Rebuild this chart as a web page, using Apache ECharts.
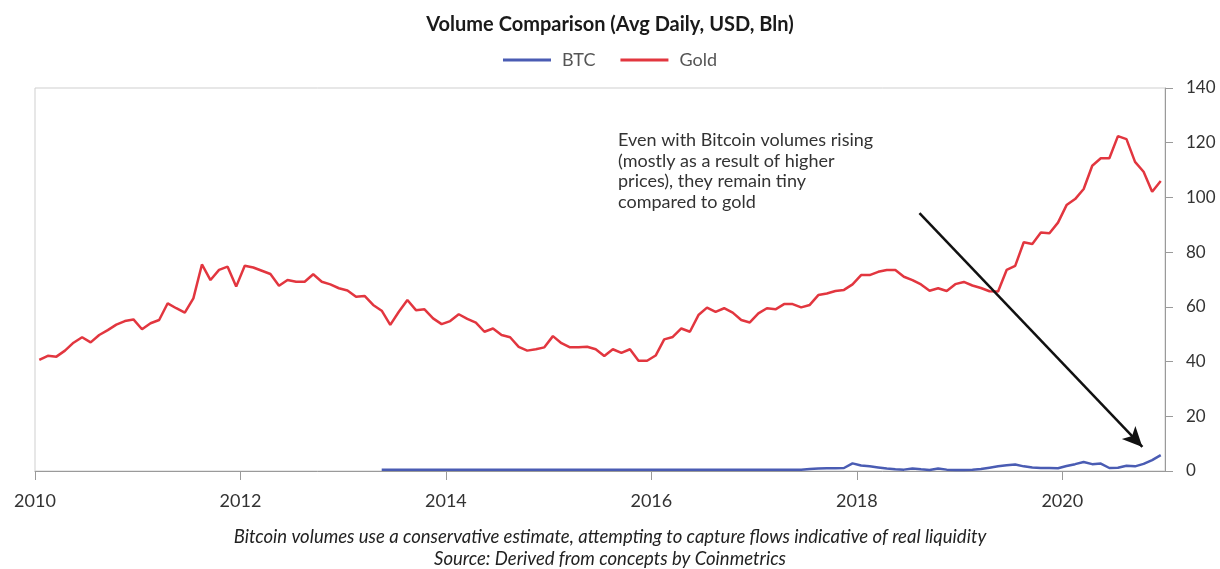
<!DOCTYPE html>
<html>
<head>
<meta charset="utf-8">
<script src="https://cdn.jsdelivr.net/npm/echarts@6/dist/echarts.min.js"></script>
<style>
html,body{margin:0;padding:0;background:#fff;}
#chart{width:1220px;height:569px;}
</style>
</head>
<body>
<div id="chart"></div>
<script>
// Monthly averages, Jan 2010 .. Dec 2020 (plotted mid-month)
const startYear = 2010;
const goldValues = [
  40.6, 42.1, 41.8, 44.0, 46.9, 48.9, 47.0, 49.7, 51.5, 53.5, 54.8, 55.4,
  51.8, 54.0, 55.2, 61.3, 59.5, 57.9, 63.1, 75.5, 69.8, 73.5, 74.7, 67.4,
  75.0, 74.4, 73.2, 72.0, 67.7, 69.8, 69.2, 69.2, 71.9, 69.2, 68.2, 66.8,
  66.0, 63.7, 64.0, 60.7, 58.6, 53.4, 58.2, 62.5, 58.8, 59.1, 55.8, 53.7,
  54.8, 57.3, 55.6, 54.2, 50.9, 52.1, 49.7, 48.9, 45.4, 44.0, 44.5, 45.2,
  49.3, 46.7, 45.2, 45.2, 45.4, 44.5, 42.0, 44.5, 43.2, 44.5, 40.3, 40.3,
  42.2, 48.1, 49.0, 52.1, 50.9, 57.0, 59.7, 58.2, 59.5, 57.9, 55.2, 54.3,
  57.6, 59.5, 59.1, 61.0, 61.0, 59.8, 60.7, 64.3, 64.9, 65.8, 66.2, 68.2,
  71.6, 71.6, 72.8, 73.5, 73.5, 71.0, 69.8, 68.2, 65.9, 66.8, 65.8, 68.3,
  69.1, 67.8, 66.9, 65.7, 65.6, 73.5, 75.0, 83.6, 83.0, 87.2, 86.9, 90.8,
  97.2, 99.4, 103.1, 111.6, 114.3, 114.3, 122.4, 121.3, 113.0, 109.4, 102.1, 106.0
];
// BTC starts May 2013 (month index 40)
const btcStartIndex = 40;
const btcValues = [
  0.5, 0.5, 0.5, 0.5, 0.5, 0.5, 0.5, 0.5, 0.5, 0.5,
  0.5, 0.5, 0.5, 0.5, 0.5, 0.5, 0.5, 0.5, 0.5, 0.5,
  0.5, 0.5, 0.5, 0.5, 0.5, 0.5, 0.5, 0.5, 0.5, 0.5,
  0.5, 0.5, 0.5, 0.5, 0.5, 0.5, 0.5, 0.5, 0.5, 0.5,
  0.5, 0.5, 0.5, 0.5, 0.5, 0.5, 0.5, 0.5, 0.5, 0.5,
  0.7, 0.9, 1.0, 1.0, 1.1, 2.8, 2.0, 1.7, 1.3, 0.9,
  0.6, 0.5, 0.9, 0.6, 0.4, 0.9, 0.5, 0.4, 0.4, 0.5,
  0.7, 1.2, 1.7, 2.1, 2.4, 1.7, 1.3, 1.1, 1.1, 1.0,
  1.8, 2.5, 3.3, 2.5, 2.7, 1.1, 1.2, 1.9, 1.7, 2.6,
  4.0, 5.8
];
const yTicks = [0, 20, 40, 60, 80, 100, 120, 140];
const xTickYears = [2010, 2012, 2014, 2016, 2018, 2020];
const annotationLines = [
  'Even with Bitcoin volumes rising',
  '(mostly as a result of higher',
  'prices), they remain tiny',
  'compared to gold'
];
const arrowFrom = [2018.61, 94.3];
const arrowTo = [2020.78, 8.8];
const footnote = 'Bitcoin volumes use a conservative estimate, attempting to capture flows indicative of real liquidity';
const source = 'Source: Derived from concepts by Coinmetrics';

function monthX(i) { return startYear + (i + 0.5) / 12; }
const goldData = goldValues.map((v, i) => [monthX(i), v]);
const btcData = btcValues.map((v, i) => [monthX(btcStartIndex + i), v]);

const FONT = 'Lato, "Open Sans", sans-serif';
const chart = echarts.init(document.getElementById('chart'), null, {renderer: 'canvas'});
chart.setOption({
  animation: false,
  backgroundColor: '#fff',
  title: {
    text: 'Volume Comparison (Avg Daily, USD, Bln)',
    left: 'center', top: 10,
    textStyle: {fontFamily: FONT, fontSize: 20, fontWeight: 'bold', color: '#1a1a1a'}
  },
  legend: {
    top: 46, left: 'center',
    icon: 'rect', itemWidth: 48, itemHeight: 3, itemGap: 25,
    textStyle: {fontFamily: FONT, fontSize: 18, color: '#555', padding: [0, 0, 0, 6]},
    data: ['BTC', 'Gold']
  },
  grid: {
    left: 35, right: 55, top: 88, bottom: 98,
    show: true, borderColor: '#cfcfcf', borderWidth: 1
  },
  xAxis: {
    type: 'value', min: 2010, max: 2021, interval: 2,
    axisLine: {show: true, lineStyle: {color: '#9a9a9a', width: 1}},
    axisTick: {show: true, length: 9, lineStyle: {color: '#9a9a9a'}},
    axisLabel: {
      fontFamily: FONT, fontSize: 18, color: '#333', margin: 21,
      showMaxLabel: false,
      formatter: v => (xTickYears.indexOf(v) >= 0 ? String(v) : '')
    },
    splitLine: {show: false}
  },
  yAxis: {
    type: 'value', position: 'right', min: 0, max: 140, interval: 20,
    axisLine: {show: true, lineStyle: {color: '#9a9a9a', width: 1}},
    axisTick: {show: true, length: 8, lineStyle: {color: '#9a9a9a'}},
    axisLabel: {fontFamily: FONT, fontSize: 17, color: '#333', margin: 21,
      formatter: v => (yTicks.indexOf(v) >= 0 ? String(v) : '')},
    splitLine: {show: false}
  },
  series: [
    {
      name: 'BTC', type: 'line', data: btcData, symbol: 'none',
      lineStyle: {color: '#4a5cb3', width: 2.5}, itemStyle: {color: '#4a5cb3'}, z: 3
    },
    {
      name: 'Gold', type: 'line', data: goldData, symbol: 'none',
      lineStyle: {color: '#e2363f', width: 2.5}, itemStyle: {color: '#e2363f'}, z: 2,
      markLine: {
        silent: true, symbol: ['none', 'arrow'], symbolSize: [14, 20],
        lineStyle: {color: '#111', width: 2.5, type: 'solid'},
        label: {show: false},
        data: [[{coord: arrowFrom}, {coord: arrowTo}]]
      }
    }
  ],
  graphic: [
    {
      type: 'text', left: 618, top: 130,
      style: {
        text: annotationLines.join('\n'), fill: '#333',
        font: '18px ' + FONT, lineHeight: 20.5
      }
    },
    {
      type: 'text', left: 'center', top: 528,
      style: {text: footnote, fill: '#222', font: 'italic 18.5px ' + FONT}
    },
    {
      type: 'text', left: 'center', top: 550,
      style: {text: source, fill: '#222', font: 'italic 18.5px ' + FONT}
    }
  ]
});
</script>
</body>
</html>
